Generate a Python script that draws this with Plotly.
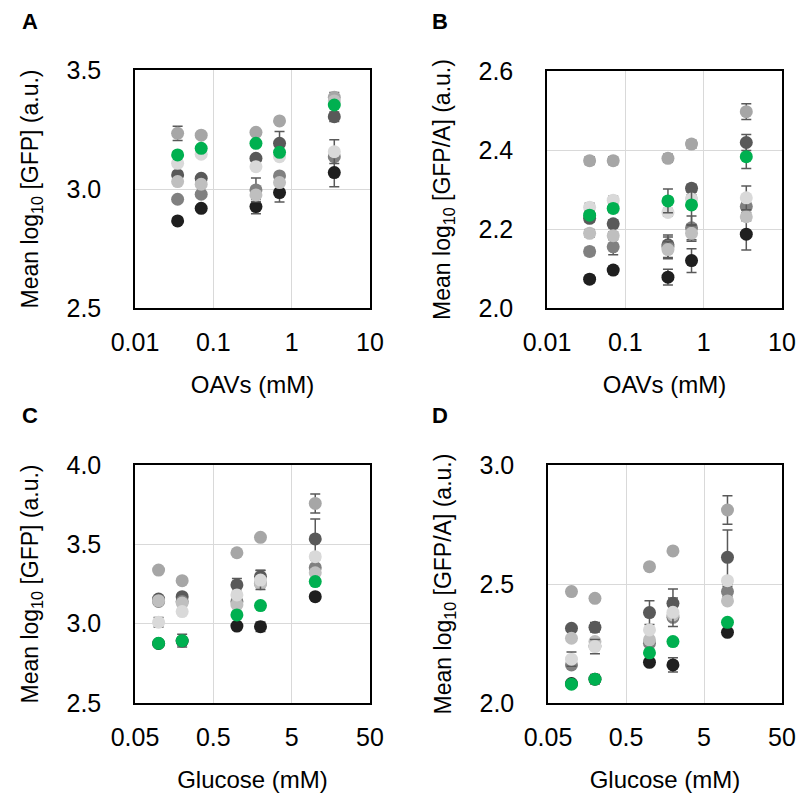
import plotly.graph_objects as go

# Concentrations
oav_mM = [0.035, 0.07, 0.35, 0.7, 3.5]
glucose_mM = [0.1, 0.2, 1, 2, 10]

# Series colours (drawing order: back to front)
colors = ["#1f1f1f", "#595959", "#808080", "#a6a6a6", "#bfbfbf", "#d9d9d9", "#00b050"]

# Panel A: mean log10 GFP vs OAVs
a_vals = [
    [2.866, 2.919, 2.926, 2.985, 3.069],
    [3.059, 3.045, 3.129, 3.192, 3.304],
    [2.957, 2.978, 2.996, 3.055, 3.136],
    [3.234, 3.226, 3.238, 3.286, 3.385],
    [3.031, 3.020, 2.975, 3.027, 3.370],
    [3.108, 3.146, 3.094, 3.136, 3.157],
    [3.143, 3.171, 3.192, 3.154, 3.353],
]
a_err = [
    [0.01, 0.01, 0.03, 0.04, 0.06],
    [0.01, 0.01, 0.01, 0.05, 0.02],
    [0.01, 0.01, 0.05, 0.01, 0.01],
    [0.03, 0.01, 0.01, 0.01, 0.02],
    [0.01, 0.01, 0.01, 0.01, 0.01],
    [0.01, 0.01, 0.01, 0.01, 0.05],
    [0.01, 0.01, 0.01, 0.01, 0.01],
]

# Panel B: mean log10 GFP/A vs OAVs
b_vals = [
    [2.073, 2.096, 2.078, 2.120, 2.187],
    [2.227, 2.213, 2.160, 2.303, 2.419],
    [2.143, 2.155, 2.155, 2.203, 2.257],
    [2.373, 2.373, 2.379, 2.415, 2.497],
    [2.189, 2.183, 2.148, 2.189, 2.231],
    [2.255, 2.273, 2.242, 2.276, 2.279],
    [2.235, 2.252, 2.271, 2.261, 2.383],
]
b_err = [
    [0.01, 0.01, 0.02, 0.03, 0.04],
    [0.01, 0.01, 0.02, 0.01, 0.02],
    [0.01, 0.02, 0.03, 0.03, 0.01],
    [0.01, 0.01, 0.01, 0.01, 0.02],
    [0.01, 0.01, 0.02, 0.02, 0.01],
    [0.01, 0.01, 0.01, 0.01, 0.03],
    [0.01, 0.01, 0.03, 0.05, 0.03],
]

# Panel C: mean log10 GFP vs glucose
c_vals = [
    [2.875, 2.890, 2.985, 2.981, 3.170],
    [3.155, 3.170, 3.244, 3.296, 3.534],
    [3.140, 3.139, 3.139, 3.254, 3.353],
    [3.338, 3.271, 3.447, 3.544, 3.758],
    [3.145, 3.130, 3.120, 3.250, 3.321],
    [3.009, 3.076, 3.181, 3.275, 3.422],
    [2.876, 2.893, 3.055, 3.114, 3.265],
]
c_err = [
    [0.01, 0.01, 0.02, 0.03, 0.02],
    [0.01, 0.01, 0.04, 0.04, 0.126],
    [0.01, 0.01, 0.01, 0.01, 0.02],
    [0.01, 0.01, 0.01, 0.01, 0.06],
    [0.01, 0.01, 0.01, 0.01, 0.01],
    [0.03, 0.01, 0.01, 0.06, 0.02],
    [0.01, 0.04, 0.01, 0.01, 0.01],
]

# Panel D: mean log10 GFP/A vs glucose
d_vals = [
    [2.082, 2.100, 2.171, 2.160, 2.297],
    [2.314, 2.318, 2.380, 2.419, 2.612],
    [2.160, 2.240, 2.251, 2.360, 2.468],
    [2.468, 2.440, 2.573, 2.639, 2.811],
    [2.272, 2.258, 2.265, 2.370, 2.429],
    [2.184, 2.237, 2.307, 2.381, 2.514],
    [2.079, 2.100, 2.211, 2.258, 2.339],
]
d_err = [
    [0.01, 0.01, 0.01, 0.03, 0.01],
    [0.01, 0.02, 0.05, 0.06, 0.115],
    [0.01, 0.01, 0.01, 0.01, 0.02],
    [0.01, 0.01, 0.01, 0.01, 0.06],
    [0.01, 0.01, 0.01, 0.01, 0.01],
    [0.03, 0.03, 0.01, 0.06, 0.01],
    [0.01, 0.02, 0.01, 0.01, 0.01],
]

panels = [
    dict(letter="A", x=oav_mM, vals=a_vals, err=a_err, xa="x", ya="y"),
    dict(letter="B", x=oav_mM, vals=b_vals, err=b_err, xa="x2", ya="y2"),
    dict(letter="C", x=glucose_mM, vals=c_vals, err=c_err, xa="x3", ya="y3"),
    dict(letter="D", x=glucose_mM, vals=d_vals, err=d_err, xa="x4", ya="y4"),
]

W = H = 801
fig = go.Figure()

for p in panels:
    for col, yv, ye in zip(colors, p["vals"], p["err"]):
        fig.add_trace(go.Scatter(
            x=p["x"], y=yv, mode="markers",
            marker=dict(color=col, size=13, line=dict(width=0)),
            error_y=dict(type="data", array=ye, visible=True,
                         color="#595959", thickness=1.5, width=5),
            xaxis=p["xa"], yaxis=p["ya"], showlegend=False,
        ))

FAM = "Liberation Sans, Arial, sans-serif"
tick_font = dict(family=FAM, size=25, color="#000000")
xtitle_font = dict(family=FAM, size=24, color="#000000")
ytitle_font = dict(family=FAM, size=23, color="#000000")

def px_x(a, b):
    return [a / W, b / W]

def px_y(top, bottom):
    return [1 - bottom / H, 1 - top / H]

x_common = dict(type="log", showline=True, mirror=True, linecolor="#000000", linewidth=1.5,
                showgrid=True, gridcolor="#d9d9d9", gridwidth=1.2, zeroline=False,
                ticks="outside", ticklen=11, tickcolor="rgba(0,0,0,0)", automargin=False,
                tickfont=tick_font, title_font=xtitle_font, title_standoff=21)
y_common = dict(showline=True, mirror=True, linecolor="#000000", linewidth=1.5,
                showgrid=True, gridcolor="#d9d9d9", gridwidth=1.2, zeroline=False,
                ticks="outside", ticklen=27, tickcolor="rgba(0,0,0,0)", tickformat=".1f",
                automargin=False, tickfont=tick_font, title_font=ytitle_font,
                title_standoff=21)

oav_ticks = [0.01, 0.1, 1, 10]
glu_ticks = [0.05, 0.5, 5, 50]

fig.update_layout(
    width=W, height=H, margin=dict(l=0, r=0, t=0, b=0),
    paper_bgcolor="white", plot_bgcolor="white", font=tick_font,
    xaxis=dict(x_common, domain=px_x(135, 370), range=[-2, 1],
               tickvals=oav_ticks, ticktext=["0.01", "0.1", "1", "10"],
               title_text="OAVs (mM)", anchor="y"),
    yaxis=dict(y_common, domain=px_y(70, 308), range=[2.5, 3.5], dtick=0.5, tick0=2.5,
               title_text="Mean log<sub>10</sub> [GFP] (a.u.)", anchor="x"),
    xaxis2=dict(x_common, domain=px_x(547, 782), range=[-2, 1],
                tickvals=oav_ticks, ticktext=["0.01", "0.1", "1", "10"],
                title_text="OAVs (mM)", anchor="y2"),
    yaxis2=dict(y_common, domain=px_y(71, 308), range=[2.0, 2.6], dtick=0.2, tick0=2.0,
                title_text="Mean log<sub>10</sub> [GFP/A] (a.u.)", anchor="x2"),
    xaxis3=dict(x_common, domain=px_x(135, 370), range=[-1.30103, 1.69897],
                tickvals=glu_ticks, ticktext=["0.05", "0.5", "5", "50"],
                title_text="Glucose (mM)", anchor="y3"),
    yaxis3=dict(y_common, domain=px_y(465, 703), range=[2.5, 4.0], dtick=0.5, tick0=2.5,
                title_text="Mean log<sub>10</sub> [GFP] (a.u.)", anchor="x3"),
    xaxis4=dict(x_common, domain=px_x(548, 782), range=[-1.30103, 1.69897],
                tickvals=glu_ticks, ticktext=["0.05", "0.5", "5", "50"],
                title_text="Glucose (mM)", anchor="y4"),
    yaxis4=dict(y_common, domain=px_y(465, 703), range=[2.0, 3.0], dtick=0.5, tick0=2.0,
                title_text="Mean log<sub>10</sub> [GFP/A] (a.u.)", anchor="x4"),
)

letter_pos = {"A": (30, 22), "B": (440, 22), "C": (30, 415), "D": (440, 415)}
for p in panels:
    lx, ly = letter_pos[p["letter"]]
    fig.add_annotation(text="<b>" + p["letter"] + "</b>", x=lx / W, y=1 - ly / H,
                       xref="paper", yref="paper", showarrow=False,
                       font=dict(family=FAM, size=22, color="#000"),
                       xanchor="center", yanchor="middle")

fig.write_html("out.html")
